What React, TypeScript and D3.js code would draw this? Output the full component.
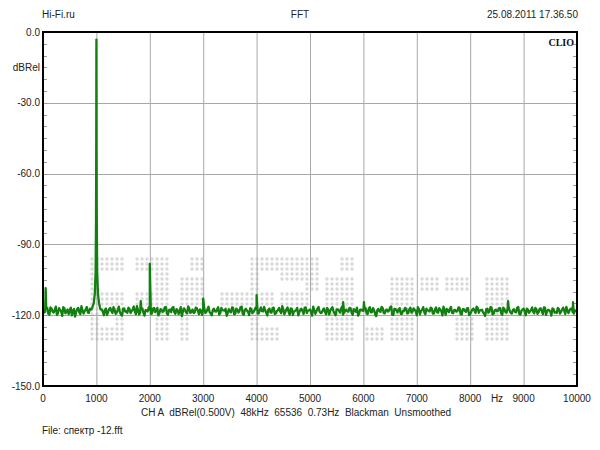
import React from "react";
import * as d3 from "d3";

const title = "FFT";
const leftHeader = "Hi-Fi.ru";
const rightHeader = "25.08.2011 17.36.50";
const infoLine = "CH A  dBRel(0.500V)  48kHz  65536  0.73Hz  Blackman  Unsmoothed";
const fileLine = "File: спектр -12.fft";
const yUnit = "dBRel";
const xUnit = "Hz";

const xTicks = [0, 1000, 2000, 3000, 4000, 5000, 6000, 7000, 8000, 9000, 10000];
const yTicks = [0, -30, -60, -90, -120, -150];

// noise floor, one value every 40 Hz from 0 Hz to 10000 Hz
const noiseStep = 40;
const noiseDb = [
  -117.5, -118.6, -116.9, -119.8, -117.2, -118.9, -116.4, -119.1, -117.8, -120.3,
  -117.1, -118.4, -119.6, -116.8, -118.1, -120.6, -117.4, -118.8, -116.2, -119.3,
  -117.6, -118.9, -117.2, -119.5, -118.0, -117.3, -119.2, -116.9, -118.6, -117.7,
  -119.9, -117.4, -118.2, -116.6, -119.4, -117.9, -118.7, -120.2, -117.1, -118.3,
  -116.8, -119.1, -117.6, -118.5, -116.2, -119.7, -117.3, -118.9, -117.9, -118.4,
  -117.7, -119.3, -116.9, -118.1, -120.1, -117.5, -118.6, -116.7, -119.2, -117.8,
  -118.7, -116.5, -119.4, -117.9, -118.2, -120.4, -117.1, -118.8, -116.3, -119.0,
  -117.6, -118.9, -117.0, -119.6, -118.3, -116.8, -119.1, -117.5, -118.7, -120.0,
  -117.2, -118.5, -116.6, -119.2, -117.9, -118.1, -120.3, -117.4, -118.8, -116.9,
  -119.4, -117.7, -118.2, -116.4, -119.8, -117.3, -118.6, -117.0, -119.1, -118.0,
  -117.5, -119.2, -116.7, -118.4, -117.8, -120.1, -117.2, -118.9, -116.8, -119.3,
  -117.9, -118.3, -116.2, -119.6, -117.4, -118.7, -117.1, -119.9, -118.2, -116.9,
  -118.8, -117.3, -119.5, -116.7, -118.1, -117.6, -120.2, -117.9, -118.4, -116.5,
  -119.1, -117.8, -118.6, -116.9, -119.7, -117.2, -118.3, -120.0, -117.5, -118.9,
  -116.4, -119.0, -117.7, -118.5, -117.1, -119.8, -118.0, -116.8, -119.3, -117.6,
  -118.2, -117.0, -119.5, -116.6, -118.7, -117.9, -120.4, -117.3, -118.6, -116.9,
  -119.2, -117.6, -118.1, -116.3, -119.9, -117.4, -118.8, -117.0, -119.4, -118.3,
  -117.2, -119.1, -116.8, -118.5, -117.7, -120.0, -117.5, -118.2, -116.6, -119.6,
  -117.9, -118.4, -117.1, -119.3, -116.7, -118.9, -117.6, -120.1, -118.0, -117.3,
  -118.7, -116.5, -119.2, -117.8, -118.3, -116.9, -119.7, -117.4, -118.6, -117.0,
  -119.5, -117.6, -118.1, -116.4, -119.0, -117.9, -118.8, -120.3, -117.2, -118.5,
  -116.8, -119.4, -117.7, -118.2, -117.0, -119.8, -117.4, -118.9, -116.6, -119.1,
  -117.8, -118.6, -116.9, -119.5, -118.1, -117.3, -120.0, -117.6, -118.4, -116.7,
  -119.2, -117.5, -118.8, -117.1, -119.6, -116.8, -118.3, -117.9, -120.2, -117.4,
  -118.6, -116.9, -119.3, -117.7, -118.0, -116.5, -119.1, -117.2, -118.7, -117.9,
  -118.3,
];
// interleaved noise values, one every 40 Hz from 20 Hz to 9980 Hz
const noiseOffset = 20;
const noiseDbMid = [
  -118.9, -117.3, -119.4, -116.7, -118.5, -117.8, -119.9, -117.0, -118.3, -116.6,
  -119.2, -117.6, -118.0, -120.1, -117.4, -118.7, -116.9, -119.5, -117.9, -118.2,
  -116.5, -119.0, -117.7, -118.4, -116.8, -119.3, -118.1, -117.5, -120.0, -117.2,
  -118.6, -116.9, -119.1, -117.6, -118.8, -116.4, -119.7, -117.3, -118.5, -119.0,
  -117.4, -118.2, -116.3, -119.6, -117.8, -118.9, -117.1, -120.2, -118.0, -116.7,
  -119.4, -117.2, -118.7, -116.9, -119.1, -117.7, -118.3, -116.5, -119.8, -117.6,
  -117.0, -118.8, -117.4, -119.5, -116.6, -118.4, -117.9, -119.2, -117.3, -118.6,
  -119.0, -116.8, -118.2, -117.5, -119.9, -117.1, -118.6, -116.4, -119.3, -117.8,
  -118.4, -117.6, -119.7, -116.9, -118.0, -117.3, -119.1, -118.5, -116.7, -119.6,
  -117.2, -118.9, -116.6, -119.4, -117.7, -118.1, -120.0, -117.4, -118.7, -116.8,
  -119.3, -117.9, -118.3, -116.5, -119.0, -117.6, -118.8, -117.0, -119.5, -118.2,
  -116.9, -119.2, -117.5, -118.6, -116.7, -119.8, -117.3, -118.4, -117.8, -120.1,
  -117.6, -118.3, -116.8, -119.1, -117.9, -118.7, -116.4, -119.4, -117.2, -118.5,
  -118.9, -117.1, -119.6, -117.7, -118.2, -116.6, -119.2, -117.5, -118.0, -117.3,
  -119.7, -117.8, -118.4, -116.9, -119.0, -117.4, -118.6, -120.2, -117.6, -118.1,
  -116.8, -119.3, -117.2, -118.8, -117.0, -119.5, -117.9, -118.3, -116.5, -119.1,
  -117.7, -118.5, -116.7, -119.9, -117.3, -118.0, -117.6, -119.4, -118.2, -116.9,
  -119.2, -117.5, -118.9, -117.1, -118.4, -116.6, -119.6, -117.8, -118.7, -117.2,
  -118.1, -116.8, -119.3, -117.6, -118.8, -117.0, -118.3, -116.4, -119.8, -117.9,
  -117.3, -119.0, -117.8, -118.5, -116.7, -119.5, -117.4, -118.2, -117.1, -120.0,
  -118.6, -117.2, -119.1, -116.9, -118.0, -117.7, -119.4, -117.5, -118.9, -116.6,
  -119.6, -117.9, -118.3, -117.0, -119.2, -116.8, -118.7, -117.4, -118.1, -119.3,
  -117.5, -118.8, -116.5, -119.7, -117.6, -118.4, -117.2, -119.0, -117.8, -118.6,
  -116.9, -119.4, -117.3, -118.2, -116.7, -119.9, -117.7, -118.5, -117.1, -118.9,
  -119.1, -117.4, -118.6, -116.8, -119.5, -117.9, -118.0, -117.2, -119.3, -118.3,
];

// fundamental at 1 kHz (replaces the noise between 910 and 1090 Hz)
const fundamentalHz = [920, 950, 970, 985, 993, 997, 999, 1000, 1001, 1003, 1007, 1015, 1030, 1050, 1075];
const fundamentalDb = [-117, -115, -111, -102, -80, -50, -20, -3.2, -20, -50, -80, -102, -111, -115, -117.5];

// narrow spurs / harmonics
const spurHz = [50, 1830, 2000, 3000, 4000, 5620, 6010, 8710, 9925];
const spurDb = [-108.5, -114, -98.3, -113, -111.5, -114.5, -114.5, -114, -114.5];

// watermark dot blocks [col0, row0, col1, row1] on a 5 px dot grid
const watermarkBlocks: [number, number, number, number][] = [
  [0, 0, 6, 2], [0, 3, 1, 6], [0, 7, 6, 9], [0, 10, 1, 16], [5, 10, 6, 16], [2, 14, 4, 16],
  [9, 0, 15, 2], [13, 3, 15, 9], [9, 7, 12, 9], [13, 10, 15, 16],
  [20, 0, 22, 2], [18, 4, 22, 9], [18, 10, 19, 16],
  [26, 7, 31, 9],
  [32, 0, 37, 2], [32, 3, 33, 16], [34, 7, 36, 9], [34, 14, 37, 16],
  [38, 0, 45, 4], [43, 5, 45, 6], [38, 7, 43, 9],
  [50, 0, 52, 2], [47, 4, 52, 16],
  [55, 14, 58, 16],
  [60, 4, 64, 16],
  [66, 4, 69, 6], [71, 4, 75, 6], [73, 12, 76, 16],
  [79, 4, 83, 16],
];

const W = 600;
const H = 450;
const L = 43;
const R = 577;
const T = 32;
const B = 386;

export default function App() {
  const x = d3.scaleLinear().domain([0, 10000]).range([L, R]);
  const y = d3.scaleLinear().domain([0, -150]).range([T, B]);

  const lo = fundamentalHz[0] - 10;
  const hi = fundamentalHz[fundamentalHz.length - 1] + 15;
  const pts: [number, number][] = [];
  noiseDb.forEach((v, i) => {
    const f = i * noiseStep;
    if (f > lo && f < hi) return;
    pts.push([f, v]);
  });
  noiseDbMid.forEach((v, i) => {
    const f = noiseOffset + i * noiseStep;
    if (f > lo && f < hi) return;
    pts.push([f, v]);
  });
  fundamentalHz.forEach((f, i) => pts.push([f, fundamentalDb[i]]));
  spurHz.forEach((f, i) => pts.push([f, spurDb[i]]));
  pts.sort((a, b) => a[0] - b[0]);

  const line = d3
    .line<[number, number]>()
    .x((d) => x(d[0]))
    .y((d) => y(d[1]));

  const minor = d3.range(0, -151, -5);
  const font = "'Liberation Sans', Arial, sans-serif";

  const dots: { cx: number; cy: number; k: string }[] = [];
  watermarkBlocks.forEach(([c0, r0, c1, r1], bi) => {
    for (let c = c0; c <= c1; c++)
      for (let r = r0; r <= r1; r++) dots.push({ cx: 92 + c * 5, cy: 259 + r * 5, k: bi + "-" + c + "-" + r });
  });

  return (
    <svg
      width={W}
      height={H}
      style={{ position: "absolute", left: 0, top: 0, background: "#fff" }}
      fontFamily={font}
      fontSize={10}
    >
      <rect x={0} y={0} width={W} height={H} fill="#fff" />
      <text x={42} y={18} fill="#222">{leftHeader}</text>
      <text x={300} y={18} textAnchor="middle" fill="#222">{title}</text>
      <text x={578} y={18} textAnchor="end" fill="#222">{rightHeader}</text>

      <g fill="#d9d9d9">
        {dots.map((d) => (
          <circle key={d.k} cx={d.cx} cy={d.cy} r={1.7} />
        ))}
      </g>

      <g stroke="#a8a8a8" strokeWidth={1}>
        {xTicks.slice(1, -1).map((t) => (
          <line key={"gx" + t} x1={x(t) + 0.5} x2={x(t) + 0.5} y1={T} y2={B} />
        ))}
        {yTicks.slice(1, -1).map((t) => (
          <line key={"gy" + t} x1={L} x2={R} y1={Math.round(y(t)) + 0.5} y2={Math.round(y(t)) + 0.5} />
        ))}
      </g>
      <g stroke="#9a9a9a" strokeWidth={1}>
        {minor.map((t) => (
          <g key={"m" + t}>
            <line x1={L} x2={L + 4} y1={Math.round(y(t)) + 0.5} y2={Math.round(y(t)) + 0.5} />
            <line x1={R - 4} x2={R} y1={Math.round(y(t)) + 0.5} y2={Math.round(y(t)) + 0.5} />
          </g>
        ))}
      </g>

      <path d={line(pts) || ""} fill="none" stroke="#12800f" strokeWidth={2.3} strokeLinejoin="round" />

      <rect x={L} y={T} width={R - L} height={B - T} fill="none" stroke="#000" strokeWidth={2} />

      <text x={574} y={46} textAnchor="end" fontFamily="'Liberation Serif', 'DejaVu Serif', serif" fontWeight="bold" fontSize={10} fill="#111">
        CLIO
      </text>

      {yTicks.map((t) => (
        <text key={"yl" + t} x={40} y={y(t) + 3.5} textAnchor="end" fill="#222">
          {t.toFixed(1)}
        </text>
      ))}
      <text x={40} y={71} textAnchor="end" fill="#222">{yUnit}</text>

      {xTicks.map((t) => (
        <text key={"xl" + t} x={x(t)} y={402} textAnchor="middle" fill="#222">
          {t}
        </text>
      ))}
      <text x={497} y={402} textAnchor="middle" fill="#222">{xUnit}</text>

      <text x={296} y={416} textAnchor="middle" fill="#222" style={{ whiteSpace: "pre" }}>
        {infoLine}
      </text>
      <text x={42} y={434} fill="#222">{fileLine}</text>
    </svg>
  );
}
